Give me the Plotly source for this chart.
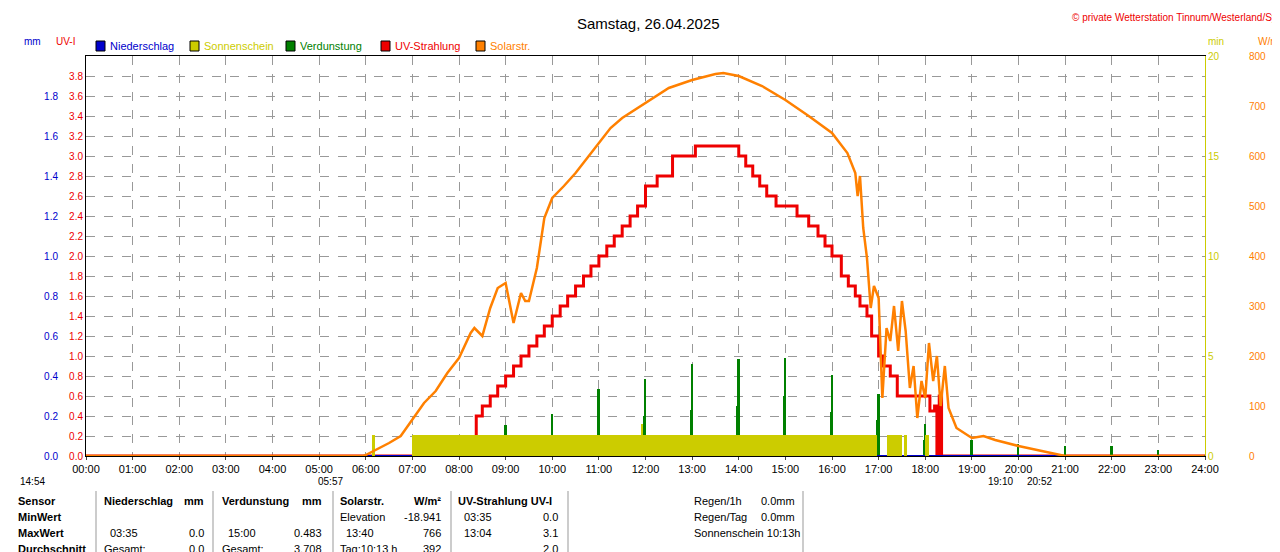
import plotly.graph_objects as go

# --- data (time in decimal hours) ---
solar_t = [0, 5.95, 6.0, 6.25, 6.5, 6.75, 7.0, 7.25, 7.5, 7.75, 8.0, 8.25, 8.33, 8.5, 8.67, 8.83,
           9.0, 9.17, 9.33, 9.42, 9.5, 9.67, 9.83, 10.0, 10.25, 10.5, 10.75, 11.0, 11.25, 11.5, 12.0,
           12.5, 13.0, 13.5, 13.67, 14.0, 14.5, 15.0, 15.5, 16.0, 16.33, 16.5, 16.55, 16.6, 16.67,
           16.75, 16.83, 16.9, 17.0, 17.08, 17.17, 17.25, 17.33, 17.42, 17.5, 17.58, 17.67, 17.75,
           17.83, 17.92, 18.0, 18.08, 18.17, 18.25, 18.33, 18.42, 18.5, 18.67, 19.0, 19.25, 19.5,
           20.0, 20.5, 21.0, 23.99]
solar_v = [0, 0, 2, 14, 26, 40, 72, 106, 130, 166, 196, 246, 256, 240, 296, 336,
           346, 266, 326, 310, 310, 376, 476, 516, 540, 566, 596, 626, 656, 676, 706,
           736, 752, 764, 766, 760, 740, 712, 680, 646, 606, 566, 520, 560, 456,
           396, 296, 340, 316, 116, 256, 230, 300, 210, 310, 250, 136, 180,
           76, 150, 116, 226, 150, 200, 100, 180, 96, 56, 36, 40, 32,
           20, 10, 0, 0]

uv_t = [0, 8.33, 8.37, 8.5, 8.67, 8.83, 9.0, 9.17, 9.33, 9.5, 9.67, 9.83, 10.0, 10.17, 10.33,
        10.5, 10.67, 10.83, 11.0, 11.17, 11.33, 11.5, 11.67, 11.83, 12.0, 12.25, 12.58, 13.07,
        14.0, 14.15, 14.3, 14.45, 14.6, 14.8, 15.0, 15.25, 15.5, 15.7, 15.85, 16.0, 16.2, 16.35,
        16.5, 16.6, 16.75, 16.85, 17.0, 17.1, 17.25, 17.4, 18.0, 18.1, 18.2, 18.25, 18.3, 18.35, 18.4, 24.0]
uv_v = [0, 0, 0.4, 0.5, 0.6, 0.7, 0.8, 0.9, 1.0, 1.1, 1.2, 1.3, 1.4, 1.5, 1.6,
        1.7, 1.8, 1.9, 2.0, 2.1, 2.2, 2.3, 2.4, 2.5, 2.7, 2.8, 3.0, 3.1,
        3.0, 2.9, 2.8, 2.7, 2.6, 2.5, 2.5, 2.4, 2.3, 2.2, 2.1, 2.0, 1.8, 1.7,
        1.6, 1.5, 1.4, 1.2, 1.0, 0.9, 0.8, 0.6, 0.6, 0.45, 0.5, 0.0, 0.6, 0.0, 0.0, 0.0]

evap_t = [8.0, 9.0, 8.98, 10.0, 9.98, 11.0, 10.98, 12.0, 11.98, 13.0, 12.98, 14.0, 13.98,
          15.0, 14.98, 16.0, 15.98, 17.0, 16.98, 18.0, 17.98, 19.0, 20.0, 21.0, 22.0, 23.0]
evap_v = [0.055, 0.155, 0.08, 0.21, 0.1, 0.335, 0.15, 0.385, 0.2, 0.46, 0.23, 0.485, 0.25,
          0.49, 0.3, 0.405, 0.22, 0.31, 0.18, 0.16, 0.08, 0.08, 0.06, 0.05, 0.05, 0.03]

sun_start = [6.13, 7.0, 11.9, 17.18, 17.55, 18.0]
sun_end = [6.2, 16.97, 11.95, 17.5, 17.6, 18.08]
sun_v = [1.05, 1.05, 1.6, 1.05, 1.05, 1.05]

hours = list(range(25))
hour_labels = ["%02d:00" % h for h in hours]

FONT = "Liberation Sans"
fig = go.Figure()

fig.add_trace(go.Bar(x=[(a + b) / 2 for a, b in zip(sun_start, sun_end)], y=sun_v,
                     width=[b - a for a, b in zip(sun_start, sun_end)],
                     marker_color="#cccc00", marker_line_width=0, yaxis="y3"))
fig.add_trace(go.Bar(x=evap_t, y=evap_v, width=0.04, marker_color="#008000",
                     marker_line_width=0, yaxis="y2"))
fig.add_trace(go.Scatter(x=[0, 24], y=[0, 0], mode="lines", line=dict(color="#0000cc", width=2),
                         yaxis="y2"))
fig.add_trace(go.Scatter(x=solar_t, y=solar_v, mode="lines", line=dict(color="#ff8000", width=2.5),
                         yaxis="y4"))
fig.add_trace(go.Scatter(x=uv_t, y=uv_v, mode="lines", line_shape="hv",
                         line=dict(color="#ee0000", width=3), yaxis="y"))

x0, x1 = 78 / 1280, 1197 / 1280
y0, y1 = 1 - 448 / 552, 1 - 48 / 552
grid = dict(showgrid=True, gridcolor="#999999", griddash="dash", gridwidth=1)

fig.update_layout(
    width=1280, height=552, margin=dict(l=0, r=0, t=0, b=0, autoexpand=False),
    paper_bgcolor="white", plot_bgcolor="white", showlegend=False, bargap=0, barmode="overlay",
    font=dict(family=FONT, size=11, color="black"),
    xaxis=dict(domain=[x0, x1], range=[0, 24], tickvals=hours, ticktext=hour_labels, automargin=False,
               showline=True, linecolor="black", mirror=True, ticks="outside", ticklen=3,
               tickfont=dict(size=11), **grid),
    yaxis=dict(domain=[y0, y1], range=[0, 4.0], tickvals=[i / 10 for i in range(0, 40, 2)],
               ticktext=["%.1f" % (i / 10) for i in range(0, 40, 2)], tickfont=dict(color="#ee0000", size=10),
               showline=True, linecolor="black", mirror=True, zeroline=False, automargin=False, **grid),
    yaxis2=dict(overlaying="y", range=[0, 2.0], anchor="free", position=50 / 1280, automargin=False,
                tickvals=[i / 10 for i in range(0, 20, 2)], ticktext=["%.1f" % (i / 10) for i in range(0, 20, 2)],
                tickfont=dict(color="#0000cc", size=10), showgrid=False, zeroline=False),
    yaxis3=dict(overlaying="y", range=[0, 20], side="right", anchor="x", tickvals=[0, 5, 10, 15, 20],
                tickfont=dict(color="#cccc00", size=10), showgrid=False, zeroline=False, automargin=False,
                showline=True, linecolor="#cccc00"),
    yaxis4=dict(overlaying="y", range=[0, 800], side="right", anchor="free", position=1240 / 1280,
                tickvals=list(range(0, 801, 100)), tickfont=dict(color="#ff8000", size=10),
                showgrid=False, zeroline=False, automargin=False),
)

ann = []


def txt(x, y, s, color="black", anchor="left", size=11, bold=False):
    if bold:
        s = "<b>" + s + "</b>"
    ann.append(dict(x=x / 1280, y=1 - y / 552, xref="paper", yref="paper", text=s, showarrow=False,
                    xanchor=anchor, yanchor="middle", font=dict(color=color, size=size, family=FONT)))


txt(640, 15, "Samstag, 26.04.2025", size=15, anchor="center")
txt(1276, 10, "© private Wetterstation Tinnum/Westerland/Sylt", color="#ee0000", anchor="right", size=10)
txt(14, 33, "mm", color="#0000cc", size=10)
txt(46, 33, "UV-I", color="#ee0000", size=10)
txt(1198, 33, "min", color="#cccc00", size=10)
txt(1248, 33, "W/m²", color="#ff8000", size=10)
legend = [(88, "Niederschlag", "#0000cc"), (182, "Sonnenschein", "#cccc00"), (278, "Verdunstung", "#008000"),
          (373, "UV-Strahlung", "#ee0000"), (468, "Solarstr.", "#ff8000")]
shapes = []
for lx, name, col in legend:
    shapes.append(dict(type="rect", xref="paper", yref="paper", x0=lx / 1280, x1=(lx + 9) / 1280,
                       y0=1 - 43 / 552, y1=1 - 33 / 552, fillcolor=col, line=dict(color="black", width=1)))
    txt(lx + 12, 38, name, color=col)

txt(10, 473, "14:54", size=10)
txt(308, 473, "05:57", size=10)
txt(978, 473, "19:10", size=10)
txt(1017, 473, "20:52", size=10)

rows = [493, 509, 525, 541]
for i, s in enumerate(["Sensor", "MinWert", "MaxWert", "Durchschnitt"]):
    txt(8, rows[i], s, bold=True)
txt(94, rows[0], "Niederschlag", bold=True); txt(198, rows[0], "mm", anchor="right", bold=True)
txt(100, rows[2], "03:35"); txt(198, rows[2], "0.0", anchor="right")
txt(94, rows[3], "Gesamt:"); txt(198, rows[3], "0.0", anchor="right")
txt(212, rows[0], "Verdunstung", bold=True); txt(316, rows[0], "mm", anchor="right", bold=True)
txt(218, rows[2], "15:00"); txt(316, rows[2], "0.483", anchor="right")
txt(212, rows[3], "Gesamt:"); txt(316, rows[3], "3.708", anchor="right")
txt(330, rows[0], "Solarstr.", bold=True); txt(435, rows[0], "W/m²", anchor="right", bold=True)
txt(330, rows[1], "Elevation"); txt(435, rows[1], "-18.941", anchor="right")
txt(336, rows[2], "13:40"); txt(435, rows[2], "766", anchor="right")
txt(330, rows[3], "Tag:10:13 h"); txt(435, rows[3], "392", anchor="right")
txt(448, rows[0], "UV-Strahlung UV-I", bold=True)
txt(454, rows[1], "03:35"); txt(552, rows[1], "0.0", anchor="right")
txt(454, rows[2], "13:04"); txt(552, rows[2], "3.1", anchor="right")
txt(552, rows[3], "2.0", anchor="right")
txt(684, rows[0], "Regen/1h"); txt(789, rows[0], "0.0mm", anchor="right")
txt(684, rows[1], "Regen/Tag"); txt(789, rows[1], "0.0mm", anchor="right")
txt(684, rows[2], "Sonnenschein 10:13h")

for vx in [88, 205, 325, 443, 560, 795]:
    shapes.append(dict(type="line", xref="paper", yref="paper", x0=vx / 1280, x1=vx / 1280,
                       y0=0, y1=1 - 483 / 552, line=dict(color="#999999", width=1)))

fig.update_layout(annotations=ann, shapes=shapes)
fig.write_html("out.html")
